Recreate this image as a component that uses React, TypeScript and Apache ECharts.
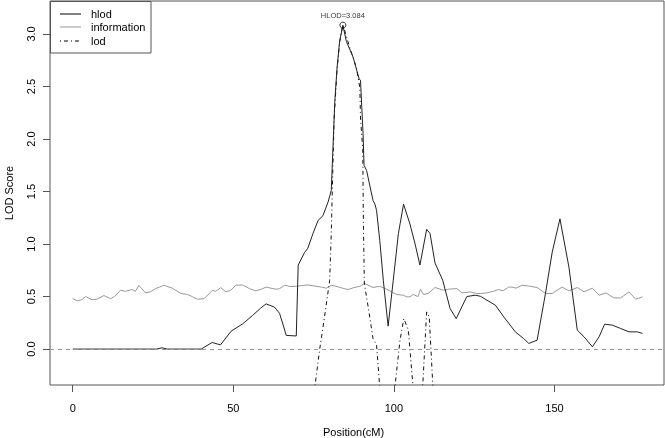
import React, { useEffect, useRef } from "react";
import * as echarts from "echarts";

// hlod curve (position in cM, LOD)
const hlodPos = [0, 10, 20, 26, 27.8, 29.5, 35, 40, 43.4, 46, 49.3, 52.9, 56, 58.5, 60.2, 62.8, 64.4, 66.5, 69.6, 70.2, 72.2, 73.2, 74.8, 76.4, 77.9, 79.5, 80.5, 81.0, 81.6, 82.3, 83.1, 84.1, 85.2, 87.3, 89.2, 89.6, 90.0, 90.4, 90.7, 91.5, 93.5, 94.1, 94.6, 95.6, 96.7, 98.2, 99.8, 101.4, 103, 105, 106.6, 108.1, 110.2, 111.25, 112.8, 115.2, 117.5, 119.4, 122.7, 125.3, 126.9, 131.6, 134.2, 137.8, 140.4, 142, 144.6, 147.2, 149.3, 151.7, 154.5, 157.1, 159.2, 161.8, 163.9, 165.6, 168, 170.6, 173.2, 175.8, 177.4];
const hlodVal = [0, 0, 0, 0, 0.012, 0, 0, 0, 0.063, 0.04, 0.17, 0.24, 0.32, 0.39, 0.43, 0.4, 0.34, 0.13, 0.125, 0.8, 0.92, 0.96, 1.1, 1.225, 1.27, 1.4, 1.51, 1.9, 2.36, 2.68, 2.93, 3.084, 2.93, 2.78, 2.57, 2.56, 2.3, 2.05, 1.75, 1.7, 1.415, 1.38, 1.32, 1.035, 0.655, 0.218, 0.655, 1.1, 1.38, 1.19, 1.0, 0.8, 1.14, 1.1, 0.82, 0.655, 0.386, 0.29, 0.5, 0.513, 0.503, 0.418, 0.307, 0.164, 0.1, 0.054, 0.085, 0.53, 0.924, 1.24, 0.78, 0.18, 0.117, 0.022, 0.117, 0.237, 0.228, 0.196, 0.164, 0.164, 0.149];

// information curve
const infoPos = [0, 1.4, 2.8, 4, 6, 7.6, 9.7, 11.8, 13, 14.9, 16.5, 18.5, 19.5, 20.6, 22.7, 24.2, 25.8, 27, 28.4, 31, 33.6, 35.7, 37.2, 38.8, 40.9, 43.5, 44.5, 46.1, 47.7, 49.2, 50.8, 52.9, 55, 57, 58.7, 60.2, 62.3, 63.5, 64.4, 66, 67.8, 69.6, 71.3, 73.2, 75.8, 77.5, 79, 80.5, 82.3, 84, 85.7, 87.5, 89.4, 90.9, 93.5, 95.6, 97, 98.75, 100.8, 102.9, 104, 105, 106, 107.5, 108.3, 109.2, 110.7, 112.8, 115.4, 117, 119.6, 121.2, 123.75, 125.5, 126.9, 129, 131, 132.6, 134, 135.7, 136.8, 138, 139.9, 142, 144.6, 147.2, 149.3, 150.8, 152.4, 154.5, 157.1, 159.2, 161.8, 163.9, 166, 168.5, 170.6, 173.2, 175.3, 177.4];
const infoVal = [0.48, 0.46, 0.47, 0.5, 0.47, 0.475, 0.51, 0.48, 0.5, 0.56, 0.55, 0.567, 0.55, 0.605, 0.535, 0.545, 0.576, 0.59, 0.608, 0.58, 0.53, 0.52, 0.5, 0.475, 0.48, 0.56, 0.55, 0.585, 0.545, 0.56, 0.608, 0.61, 0.576, 0.554, 0.57, 0.59, 0.576, 0.57, 0.576, 0.608, 0.595, 0.598, 0.605, 0.61, 0.598, 0.59, 0.58, 0.608, 0.595, 0.58, 0.567, 0.585, 0.598, 0.624, 0.586, 0.598, 0.58, 0.554, 0.52, 0.513, 0.497, 0.497, 0.52, 0.5, 0.57, 0.52, 0.53, 0.586, 0.56, 0.57, 0.576, 0.535, 0.544, 0.53, 0.529, 0.535, 0.55, 0.567, 0.555, 0.59, 0.59, 0.58, 0.608, 0.6, 0.586, 0.529, 0.529, 0.56, 0.59, 0.554, 0.586, 0.545, 0.58, 0.513, 0.535, 0.487, 0.487, 0.544, 0.475, 0.497];

// lod curve (null = gap, values just below the axis are clipped)
const lodPos = [75.0, 76.9, 78.4, 80.0, 80.5, 81.0, 81.4, 82.3, 83.1, 84.1, 84.7, 86.25, 88.3, 89.4, 89.6, 90.3, 90.5, 90.8, 92.0, 93.5, 94.6, 95.8, 97, 100.0, 101.9, 103.1, 104.5, 106.2, 107.5, 108.8, 110.2, 111.0, 112.3];
const lodVal = [-0.45, 0.0, 0.307, 0.655, 1.1, 1.73, 2.2, 2.66, 2.92, 3.084, 3.03, 2.87, 2.68, 2.49, 2.2, 1.9, 1.2, 0.62, 0.4, 0.1, 0.04, -0.45, null, -0.45, 0.085, 0.29, 0.18, -0.45, null, -0.45, 0.354, 0.307, -0.45];

const xTicks = [0, 50, 100, 150];
const yTicks = [0, 0.5, 1, 1.5, 2, 2.5, 3];
const peakPos = 84.1;
const peakVal = 3.084;
const legendNames = ["hlod", "information", "lod"];
const xTitle = "Position(cM)";
const yTitle = "LOD Score";

const FONT = "Liberation Sans, Arial, sans-serif";

export default function App() {
  const ref = useRef<HTMLDivElement>(null);
  useEffect(() => {
    const chart = echarts.init(ref.current!, null, { renderer: "svg" });
    const zip = (p: number[], v: (number | null)[]) =>
      p.map((x, i) => (v[i] === null ? [x, "-"] : [x, v[i]]));
    chart.setOption({
      animation: false,
      textStyle: { fontFamily: FONT },
      grid: {
        left: 50,
        right: 1,
        top: 1,
        bottom: 53,
        show: true,
        borderColor: "#555",
        borderWidth: 1,
        containLabel: false,
        outerBoundsMode: "none",
      },
      xAxis: {
        type: "value",
        min: -7.08,
        max: 184.1,
        axisLine: { show: false, onZero: false },
        axisTick: {
          show: true,
          customValues: xTicks,
          length: 7,
          lineStyle: { color: "#555" },
        },
        axisLabel: {
          customValues: xTicks,
          margin: 17,
          fontSize: 11,
          color: "#000",
          fontFamily: FONT,
        },
        splitLine: { show: false },
      },
      yAxis: {
        type: "value",
        min: -0.342,
        max: 3.314,
        axisLine: { show: false, onZero: false },
        axisTick: {
          show: true,
          customValues: yTicks,
          length: 7,
          lineStyle: { color: "#555" },
        },
        axisLabel: {
          customValues: yTicks,
          rotate: 90,
          margin: 14,
          fontSize: 11,
          color: "#000",
          fontFamily: FONT,
          formatter: (v: number) => v.toFixed(1),
        },
        splitLine: { show: false },
      },
      series: [
        {
          name: "information",
          type: "line",
          data: zip(infoPos, infoVal),
          showSymbol: false,
          lineStyle: { color: "#999", width: 1 },
          z: 2,
        },
        {
          name: "lod",
          type: "line",
          data: zip(lodPos, lodVal),
          showSymbol: false,
          clip: true,
          connectNulls: false,
          lineStyle: { color: "#111", width: 1, type: [1, 3, 4, 3] },
          z: 3,
        },
        {
          name: "hlod",
          type: "line",
          data: zip(hlodPos, hlodVal),
          showSymbol: false,
          lineStyle: { color: "#222", width: 1 },
          z: 4,
          markLine: {
            silent: true,
            symbol: "none",
            label: { show: false },
            lineStyle: { color: "#999", width: 1, type: [4, 4] },
            data: [{ yAxis: 0 }],
          },
        },
        {
          name: "peak",
          type: "scatter",
          data: [[peakPos, peakVal]],
          symbol: "circle",
          symbolSize: 6,
          itemStyle: { color: "rgba(255,255,255,0)", borderColor: "#000", borderWidth: 1 },
          label: {
            show: true,
            position: "top",
            distance: 2,
            formatter: "HLOD=3.084",
            fontSize: 7.5,
            color: "#000",
            fontFamily: FONT,
          },
          z: 5,
        },
      ],
      graphic: [
        {
          type: "text",
          left: 323,
          top: 426,
          style: { text: xTitle, fontSize: 11, fill: "#000", fontFamily: FONT },
        },
        {
          type: "text",
          x: 9,
          y: 193,
          rotation: Math.PI / 2,
          style: { text: yTitle, fontSize: 11, fill: "#000", fontFamily: FONT, align: "center", verticalAlign: "middle" },
        },
        {
          type: "rect",
          shape: { x: 50.5, y: 1.5, width: 100.5, height: 51.5 },
          style: { fill: "#fff", stroke: "#555", lineWidth: 1 },
          z: 10,
        },
        { type: "line", shape: { x1: 60, y1: 14, x2: 81, y2: 14 }, style: { stroke: "#000", lineWidth: 1 }, z: 11 },
        { type: "line", shape: { x1: 60, y1: 27, x2: 81, y2: 27 }, style: { stroke: "#999", lineWidth: 1 }, z: 11 },
        { type: "line", shape: { x1: 60, y1: 41, x2: 81, y2: 41 }, style: { stroke: "#000", lineWidth: 1, lineDash: [1, 3, 4, 3] }, z: 11 },
        ...legendNames.map((t, i) => ({
          type: "text",
          x: 91,
          y: [14, 27, 41][i],
          style: { text: t, fontSize: 11, fill: "#000", fontFamily: FONT, verticalAlign: "middle", align: "left" },
          z: 11,
        })),
      ],
    });
    return () => chart.dispose();
  }, []);
  return (
    <div
      ref={ref}
      style={{ position: "fixed", left: 0, top: 0, width: 665, height: 438 }}
    />
  );
}
